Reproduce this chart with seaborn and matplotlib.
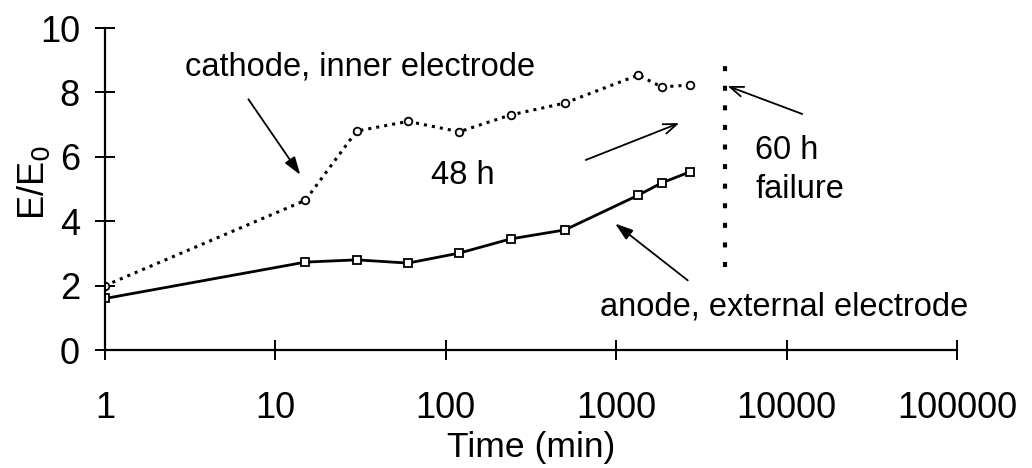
import matplotlib
matplotlib.use("Agg")
import matplotlib.pyplot as plt
from matplotlib.ticker import FixedLocator, FixedFormatter, NullLocator
import seaborn as sns
import pandas as pd

# Elastic modulus ratio vs. exposure time
cathode_time = [1, 15, 30, 60, 120, 240, 500, 1350, 1850, 2700]
cathode_ratio = [2.0, 4.65, 6.8, 7.1, 6.78, 7.3, 7.67, 8.54, 8.17, 8.23]
anode_time = [1, 15, 30, 60, 120, 240, 500, 1350, 1850, 2700]
anode_ratio = [1.6, 2.73, 2.8, 2.7, 3.01, 3.45, 3.73, 4.81, 5.19, 5.53]
failure_time = 4350
x_ticks = [1, 10, 100, 1000, 10000, 100000]
x_tick_labels = ["1", "10", "100", "1000", "10000", "100000"]
y_ticks = [0, 2, 4, 6, 8, 10]

sns.set_theme(style="white")
plt.rcParams["font.family"] = ["Liberation Sans", "DejaVu Sans"]

cath = pd.DataFrame({"t": cathode_time, "r": cathode_ratio})
anod = pd.DataFrame({"t": anode_time, "r": anode_ratio})

fig = plt.figure(figsize=(10.32, 4.68), dpi=100)
ax = fig.add_axes([0.1017, 0.2521, 0.8256, 0.688])

sns.lineplot(data=cath, x="t", y="r", ax=ax, color="black", linestyle=":",
             linewidth=2.2, marker="o", markersize=5.5, markerfacecolor="white",
             markeredgecolor="black", markeredgewidth=1.3)
sns.lineplot(data=anod, x="t", y="r", ax=ax, color="black", linestyle="-",
             linewidth=2.0, marker="s", markersize=5.5, markerfacecolor="white",
             markeredgecolor="black", markeredgewidth=1.3)

ax.set_xscale("log")
ax.set_xlim(1, 100000)
ax.set_ylim(0, 10)
ax.xaxis.set_major_locator(FixedLocator(x_ticks))
ax.xaxis.set_major_formatter(FixedFormatter(x_tick_labels))
ax.xaxis.set_minor_locator(NullLocator())
ax.set_yticks(y_ticks)
ax.set_yticklabels([str(v) for v in y_ticks])

for s in ["top", "right"]:
    ax.spines[s].set_visible(False)
for s in ["left", "bottom"]:
    ax.spines[s].set_color("black")
    ax.spines[s].set_linewidth(1.6)

ax.tick_params(axis="x", bottom=True, direction="inout", length=15, width=1.4,
               labelsize=26, pad=22, colors="black")
ax.tick_params(axis="y", left=True, direction="inout", length=14, width=1.4,
               labelsize=26, pad=11, colors="black")

ax.set_xlabel("Time (min)", fontsize=25.5, color="black", va="top")
ax.xaxis.set_label_coords(0.5, -0.252)
ax.set_ylabel("E/E$_0$", fontsize=26, color="black")
ax.yaxis.set_label_coords(-0.062, 0.52)

# Failure marker
ax.vlines(failure_time, 2.58, 9.0, colors="black", linestyles=(0, (1.2, 3.5)),
          linewidth=3)

ax.text(2.95, 8.79, "cathode, inner electrode", fontsize=23.5, color="black",
        ha="left", va="center")
ax.annotate("", xy=(14.3, 5.37), xytext=(6.8, 7.86),
            arrowprops=dict(arrowstyle="-|>,head_length=0.9,head_width=0.3",
                            color="black", lw=1.3))
ax.text(126, 5.43, "48 h", fontsize=23.5, color="black", ha="center",
        va="center")
ax.annotate("", xy=(2430, 7.08), xytext=(640, 5.87),
            arrowprops=dict(arrowstyle="->,head_length=0.8,head_width=0.3",
                            color="black", lw=1.3))
ax.text(6530, 6.21, "60 h", fontsize=23.5, color="black", ha="left",
        va="center")
ax.text(6530, 4.97, "failure", fontsize=23.5, color="black", ha="left",
        va="center")
ax.annotate("", xy=(4350, 8.23), xytext=(12800, 7.30),
            arrowprops=dict(arrowstyle="->,head_length=0.8,head_width=0.3",
                            color="black", lw=1.3))
ax.text(9660, 1.34, "anode, external electrode", fontsize=23.5, color="black",
        ha="center", va="center")
ax.annotate("", xy=(958, 3.98), xytext=(2710, 2.11),
            arrowprops=dict(arrowstyle="-|>,head_length=0.9,head_width=0.3",
                            color="black", lw=1.3))

fig.savefig("out.png", dpi=100, facecolor="white")
